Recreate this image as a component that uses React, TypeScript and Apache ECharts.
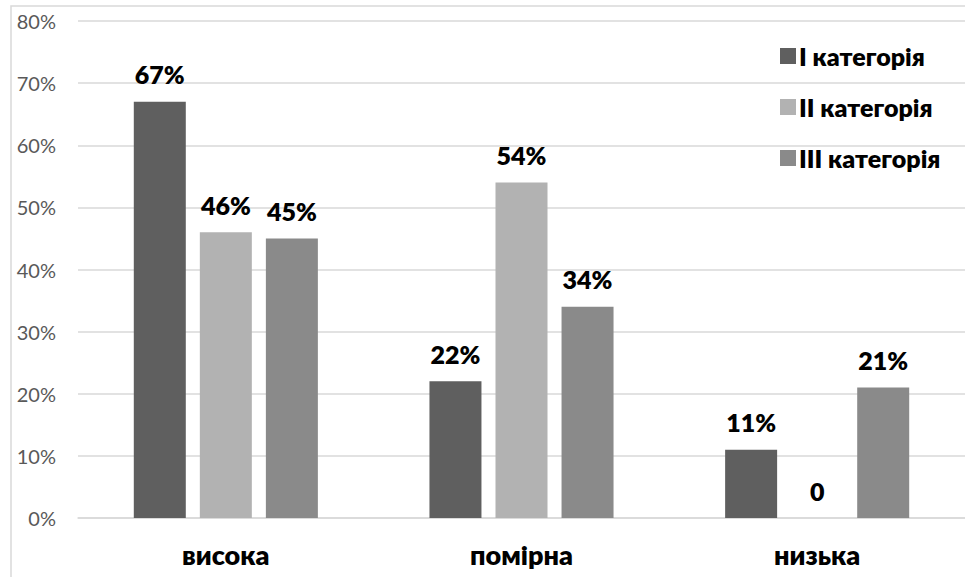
import React, { useEffect, useRef } from "react";
import * as echarts from "echarts";

// Rating levels on the x axis
const levels = ["висока", "помірна", "низька"];
// Series names and their values in percent
const seriesNames = ["I категорія", "II категорія", "III категорія"];
const cat1 = [67, 22, 11];
const cat2 = [46, 54, 0];
const cat3 = [45, 34, 21];
const seriesColors = ["#5f5f5f", "#b2b2b2", "#8a8a8a"];

const FONT = "Lato, 'Open Sans', sans-serif";

export default function App() {
  const ref = useRef<HTMLDivElement>(null);

  useEffect(() => {
    if (!ref.current) return;
    const chart = echarts.init(ref.current, null, { renderer: "svg" });
    const values = [cat1, cat2, cat3];

    chart.setOption({
      animation: false,
      backgroundColor: "#ffffff",
      textStyle: { fontFamily: FONT },
      graphic: [
        {
          type: "rect",
          shape: { x: 11, y: 6, width: 1000, height: 1000 },
          style: { fill: "none", stroke: "#d9d9d9", lineWidth: 1.5 },
          silent: true,
        },
      ],
      legend: {
        orient: "vertical",
        left: 775,
        top: 38,
        itemWidth: 16,
        itemHeight: 16,
        itemGap: 25,
        icon: "rect",
        data: seriesNames,
        textStyle: {
          fontFamily: FONT,
          fontWeight: 800,
          fontSize: 25,
          color: "#000000",
          lineHeight: 26,
          padding: [0, 0, 0, -2],
        },
      },
      grid: { left: 78, top: 21, width: 894, height: 497, containLabel: false },
      xAxis: {
        type: "category",
        data: levels,
        axisLine: { show: true, lineStyle: { color: "#d9d9d9", width: 1.5 } },
        axisTick: { show: false },
        axisLabel: {
          margin: 23,
          fontFamily: FONT,
          fontWeight: 800,
          fontSize: 27,
          color: "#000000",
        },
      },
      yAxis: {
        type: "value",
        min: 0,
        max: 80,
        interval: 10,
        axisLine: { show: false },
        axisTick: { show: false },
        splitLine: { lineStyle: { color: "#d9d9d9", width: 1.5 } },
        axisLabel: {
          formatter: "{value}%",
          margin: 22,
          fontFamily: FONT,
          fontSize: 20,
          color: "#595959",
        },
      },
      series: seriesNames.map((name, i) => ({
        name,
        type: "bar",
        data: values[i],
        barWidth: 52,
        barGap: "27%",
        itemStyle: { color: seriesColors[i] },
        label: {
          show: true,
          position: "top",
          distance: 15,
          fontFamily: FONT,
          fontWeight: 800,
          fontSize: 25,
          color: "#000000",
          formatter: (p: any) => (p.value === 0 ? "0" : p.value + "%"),
        },
      })),
    });

    return () => chart.dispose();
  }, []);

  return (
    <div
      ref={ref}
      style={{ position: "absolute", left: 0, top: 0, width: 965, height: 577 }}
    />
  );
}
